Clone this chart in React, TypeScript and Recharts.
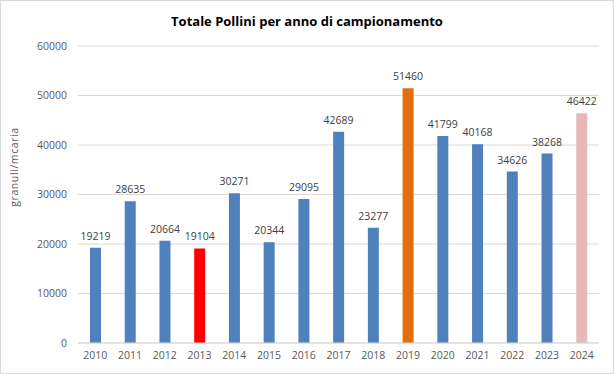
import { BarChart, Bar, XAxis, YAxis, CartesianGrid, LabelList, Cell } from "recharts";

const years = ["2010", "2011", "2012", "2013", "2014", "2015", "2016", "2017", "2018", "2019", "2020", "2021", "2022", "2023", "2024"];
const pollini = [19219, 28635, 20664, 19104, 30271, 20344, 29095, 42689, 23277, 51460, 41799, 40168, 34626, 38268, 46422];
const barColors = ["#4f81bd", "#4f81bd", "#4f81bd", "#ff0000", "#4f81bd", "#4f81bd", "#4f81bd", "#4f81bd", "#4f81bd", "#e46c0a", "#4f81bd", "#4f81bd", "#4f81bd", "#4f81bd", "#e6b9b8"];
const yTicks = [0, 10000, 20000, 30000, 40000, 50000, 60000];

const data = years.map((y, i) => ({ year: y, value: pollini[i] }));

const font = "'Open Sans', 'Liberation Sans', sans-serif";

export default function App() {
  return (
    <div
      style={{
        position: "fixed",
        left: 0,
        top: 0,
        width: 612,
        height: 372,
        border: "1px solid #d9d9d9",
        background: "#fff",
        fontFamily: font,
      }}
    >
      <div
        style={{
          position: "absolute",
          left: 0,
          width: 612,
          top: 11,
          textAlign: "center",
          fontWeight: "bold",
          fontSize: 13,
          color: "#000",
        }}
      >
        Totale Pollini per anno di campionamento
      </div>
      <div style={{ position: "absolute", left: -1, top: -1 }}>
        <BarChart
          width={614}
          height={374}
          data={data}
          margin={{ top: 46, right: 15, bottom: 1, left: 0 }}
          barCategoryGap={0}
        >
          <CartesianGrid vertical={false} stroke="#d9d9d9" />
          <XAxis
            dataKey="year"
            height={30}
            axisLine={{ stroke: "#d9d9d9" }}
            tickLine={false}
            tickSize={0}
            tickMargin={9}
            interval={0}
            tick={{ fontSize: 10.5, fill: "#595959", fontFamily: font }}
          />
          <YAxis
            width={78}
            domain={[0, 60000]}
            ticks={yTicks}
            axisLine={false}
            tickLine={false}
            tickSize={0}
            tickMargin={11}
            tick={{ fontSize: 10.5, fill: "#595959", fontFamily: font }}
            label={{
              content: () => (
                <text
                  x={14}
                  y={167}
                  transform="rotate(-90 14 167)"
                  textAnchor="middle"
                  dominantBaseline="central"
                  fontSize={10.5}
                  fill="#595959"
                  fontFamily={font}
                  letterSpacing={0.6}
                >
                  granuli/mcaria
                </text>
              ),
            }}
          />
          <Bar dataKey="value" barSize={11} isAnimationActive={false}>
            {data.map((d, i) => (
              <Cell key={d.year} fill={barColors[i]} />
            ))}
            <LabelList
              dataKey="value"
              position="top"
              offset={8}
              style={{ fontSize: 10.5, fill: "#404040", fontFamily: font }}
            />
          </Bar>
        </BarChart>
      </div>
    </div>
  );
}
